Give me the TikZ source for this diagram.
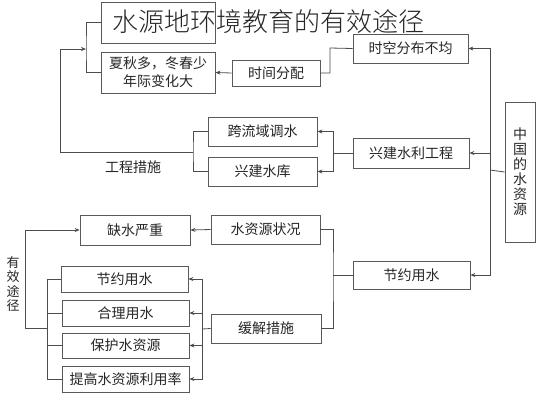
\documentclass[tikz,border=0pt]{standalone}
\usepackage{fontspec}
\setmainfont{Noto Sans CJK SC}
\IfFontExistsTF{Noto Sans CJK SC Light}{\newfontfamily\titlefont{Noto Sans CJK SC Light}}{\newfontfamily\titlefont{Noto Sans CJK SC}}
\usetikzlibrary{arrows.meta}
\newcommand\bx[6]{\node[box, minimum width={(#4-#2)*1pt}, minimum height={(#5-#3)*1pt}] (#1) at ({(#2+#4)/2},{(#3+#5)/2}) {#6};}
\begin{document}
\begin{tikzpicture}[x=1pt,y=-1pt,
  box/.style={draw=black!65, line width=0.8pt, inner sep=0pt, text=black!85,
    font=\fontsize{14}{18}\selectfont, align=center},
  ln/.style={draw=black!70, line width=0.8pt},
  arr/.style={ln, -{Stealth[length=5pt,width=4pt]}},
  lbl/.style={text=black!85, inner sep=0pt, align=center}]
\useasboundingbox[fill=white] (0,0) rectangle (540,400);
% boxes
\bx{topb}{101}{2}{215}{43}{}
\bx{xq}{101}{52}{215}{93}{夏秋多，冬春少\\年际变化大}
\bx{sjfp}{232}{60}{320}{86}{时间分配}
\bx{skfb}{353}{34}{468}{63}{时空分布不均}
\bx{zg}{505}{102}{535}{242}{}
\bx{xjsl}{353}{138}{469}{168}{兴建水利工程}
\bx{klytd}{208}{117}{317}{146}{跨流域调水}
\bx{xjsk}{208}{157}{317}{186}{兴建水库}
\bx{jyR}{353}{261}{470}{289}{节约用水}
\bx{szyzk}{211}{215}{320}{244}{水资源状况}
\bx{hjcs}{211}{314}{321}{343}{缓解措施}
\bx{qsyz}{80}{215}{190}{245}{缺水严重}
\bx{jyL}{61}{266}{188}{292}{节约用水}
\bx{hlys}{62}{300}{189}{326}{合理用水}
\bx{bhsz}{62}{333}{189}{358}{保护水资源}
\bx{tgsz}{62}{366}{189}{392}{提高水资源利用率}
% vertical texts and labels
\node[lbl, font=\fontsize{14}{15}\selectfont] (zgt) at (zg.center) {中\\国\\的\\水\\资\\源};
\node[lbl, font=\fontsize{14}{15}\selectfont] (gccs) at (133,167) {工程措施};
\node[lbl, font=\fontsize{13}{14.5}\selectfont] (yxtj) at (13,284) {有\\效\\途\\径};
% right trunk
\coordinate (tR) at (490,170);
\draw[ln] (zg.west) -- (tR);
\draw[arr] (tR) |- (skfb.east);
\draw[arr] (tR) |- (xjsl.east);
\draw[arr] (tR) |- (jyR.east);
% top branch
\coordinate (t1) at (330,48);
\draw[ln] (skfb.west) -- (t1) |- (sjfp.east);
\draw[arr] (sjfp.west) -- (xq.east);
% engineering branch
\coordinate (t2) at (333,153);
\draw[ln] (xjsl.west) -- (t2);
\draw[arr] (t2) |- (klytd.east);
\draw[arr] (t2) |- (xjsk.east);
\coordinate (t3) at (193,152);
\draw[ln] (klytd.west) -| (t3) |- (xjsk.west);
\coordinate (t4) at (86,49);
\draw[arr] (t3) -- (60,152) |- (t4);
\draw[ln] (topb.west) -| (t4) |- (xq.west);
% water saving branch
\coordinate (t5) at (333,275);
\draw[ln] (jyR.west) -- (t5);
\draw[ln] (szyzk.east) -| (t5) |- (hjcs.east);
\draw[arr] (szyzk.west) -- (qsyz.east);
\coordinate (t6) at (202,329);
\draw[ln] (hjcs.west) -- (t6);
\draw[arr] (t6) |- (jyL.east);
\draw[arr] (t6) |- (hlys.east);
\draw[arr] (t6) |- (bhsz.east);
\draw[arr] (t6) |- (tgsz.east);
\coordinate (t7) at (47,328);
\draw[ln] (jyL.west) -| (t7);
\draw[ln] (hlys.west) -| (t7);
\draw[ln] (bhsz.west) -| (t7);
\draw[ln] (tgsz.west) -| (t7);
\draw[arr] (t7) -- (25,328) |- (qsyz.west);
% title
\node[lbl, text=black!85, font=\titlefont\fontsize{26}{28}\selectfont] (title) at (268,22) {水源地环境教育的有效途径};
\end{tikzpicture}
\end{document}
